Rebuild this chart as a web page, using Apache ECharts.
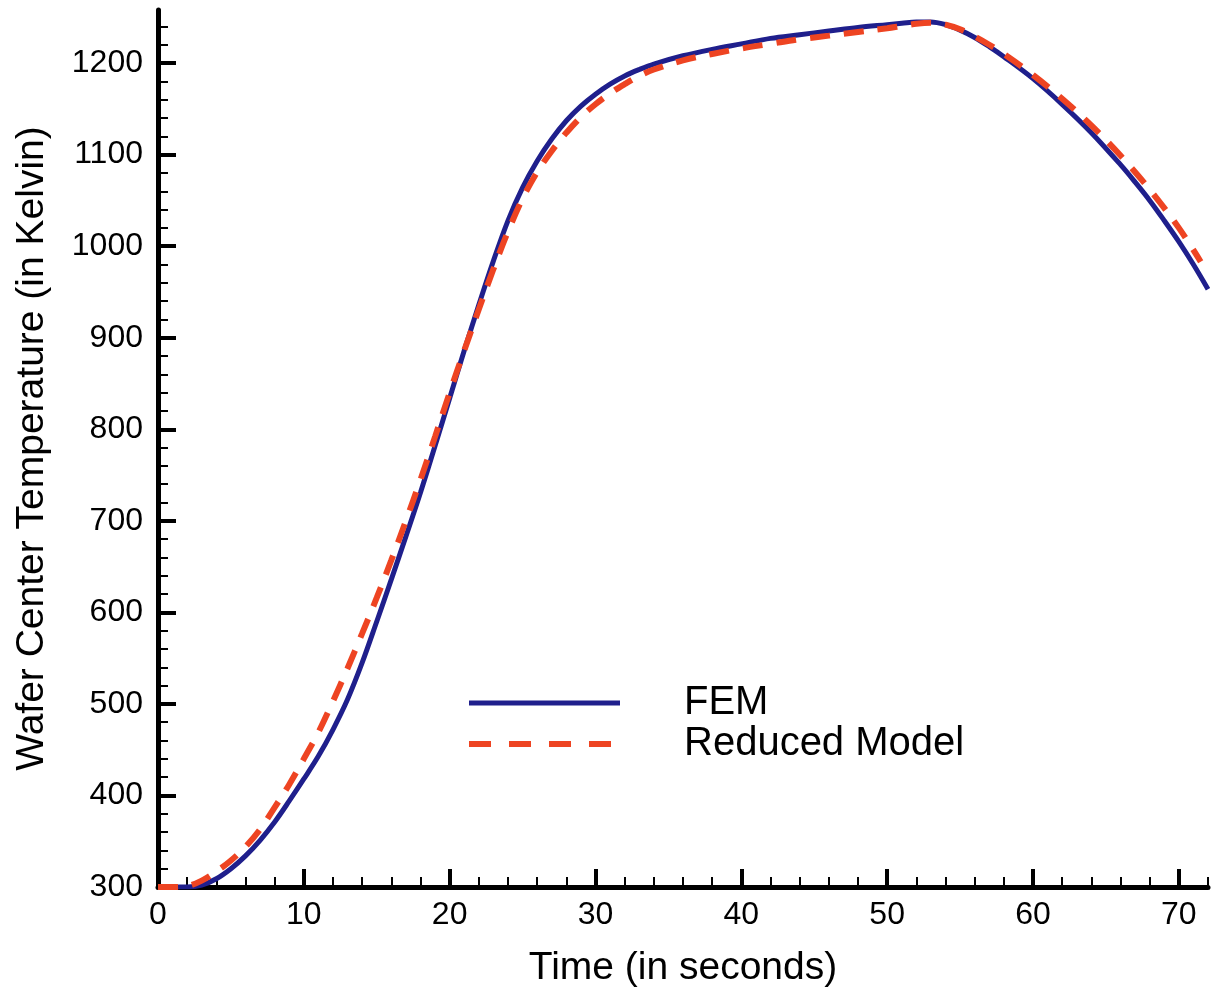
<!DOCTYPE html>
<html>
<head>
<meta charset="utf-8">
<script src="https://cdn.jsdelivr.net/npm/echarts@6/dist/echarts.min.js"></script>
<style>html,body{margin:0;padding:0;background:#fff}#c{width:1212px;height:996px}</style>
</head>
<body>
<div id="c"></div>
<script>
const femTimes = [0,1,2,3,4,5,6,7,8,9,10,11,12,13,14,15,16,17,18,19,20,21,22,23,24,25,26,27,28,29,30,31,32,33,34,36,38,40,42,44,46,48,50,51,52,53,54,55,56,57,58,60,62,64,66,67,68,69,70,71,72];
const femValues = [300,300,300,302,309,320,334,351,371,394,418,443,472,505,545,590,636,683,731,782,834,886,936,984,1028,1064,1093,1117,1137,1153,1166,1177,1186,1193,1199,1208,1215,1221,1227,1231,1235,1239,1242,1243.5,1245,1245,1242,1236,1228,1218,1207,1183,1155,1124,1089,1070,1050,1028,1005,980,953];
const redTimes = [0,1,2,3,4,5,6,7,8,9,10,11,12,13,14,15,16,17,18,19,20,21,22,23,24,25,26,27,28,29,30,31,32,33,34,36,38,40,42,44,46,48,50,51,52,53,54,55,56,57,58,60,62,64,66,68,70,71.5];
const redValues = [300,300,301,307,317,329,344,363,387,412,440,469,503,539,577,616,657,700,745,792,840,886,931,975,1016,1052,1081,1104,1124,1141,1155,1167,1177,1186,1193,1203,1210,1216,1221,1226,1230,1234,1238,1240.5,1243,1244,1242,1237,1229,1220,1210,1187,1161,1132,1099,1062,1020,983];
const xMajorTicks = [0,10,20,30,40,50,60,70];
const xMinorTicks = [2,4,6,8,12,14,16,18,22,24,26,28,32,34,36,38,42,44,46,48,52,54,56,58,62,64,66,68,72];
const yMajorTicks = [300,400,500,600,700,800,900,1000,1100,1200];
const yMinorTicks = [320,340,360,380,420,440,460,480,520,540,560,580,620,640,660,680,720,740,760,780,820,840,860,880,920,940,960,980,1020,1040,1060,1080,1120,1140,1160,1180,1220,1240];
const seriesNames = ['FEM', 'Reduced Model'];
const xTitle = 'Time (in seconds)';
const yTitle = 'Wafer Center Temperature (in Kelvin)';

const pair = (ts, vs) => ts.map((t, i) => [t, vs[i]]);
const FONT = '"Liberation Sans", Arial, Helvetica, sans-serif';
const BLUE = '#1f1f8c', RED = '#ee4422';
const chart = echarts.init(document.getElementById('c'));
const baseX = {type:'value', min:0, max:72, gridIndex:0, position:'bottom', splitLine:{show:false}};
const baseY = {type:'value', min:300, max:1258, gridIndex:0, position:'left', splitLine:{show:false}};
chart.setOption({
  animation:false,
  backgroundColor:'#fff',
  grid:{left:158, right:4, top:10, bottom:109, containLabel:false},
  legend:{
    orient:'vertical', left:466, top:683, padding:0, itemWidth:151, itemHeight:24, itemGap:1,
    itemStyle:{opacity:0},
    data:[
      {name:seriesNames[0], lineStyle:{color:BLUE, width:5}},
      {name:seriesNames[1], lineStyle:{color:RED, width:6, type:[22,18]}}
    ],
    textStyle:{fontFamily:FONT, fontSize:40, color:'#000', padding:[0,0,0,59]}
  },
  xAxis:[
    Object.assign({}, baseX, {
      name:xTitle, nameLocation:'middle', nameGap:62,
      nameTextStyle:{fontFamily:FONT, fontSize:39, color:'#000'},
      axisLine:{show:true, onZero:false, lineStyle:{color:'#000', width:5}},
      axisTick:{show:true, inside:true, length:18, lineStyle:{color:'#000', width:4}, customValues:xMajorTicks},
      axisLabel:{show:true, margin:12, fontFamily:FONT, fontSize:32, color:'#000', customValues:xMajorTicks, formatter:v => String(v)}
    }),
    Object.assign({}, baseX, {
      axisLine:{show:false, onZero:false},
      axisTick:{show:true, inside:true, length:10, lineStyle:{color:'#000', width:2}, customValues:xMinorTicks},
      axisLabel:{show:false}
    })
  ],
  yAxis:[
    Object.assign({}, baseY, {
      name:yTitle, nameLocation:'middle', nameGap:106,
      nameTextStyle:{fontFamily:FONT, fontSize:39, color:'#000'},
      axisLine:{show:true, onZero:false, lineStyle:{color:'#000', width:5}},
      axisTick:{show:true, inside:true, length:18, lineStyle:{color:'#000', width:4}, customValues:yMajorTicks},
      axisLabel:{show:true, margin:15, fontFamily:FONT, fontSize:32, color:'#000', customValues:yMajorTicks, formatter:v => String(v)}
    }),
    Object.assign({}, baseY, {
      axisLine:{show:false, onZero:false},
      axisTick:{show:true, inside:true, length:10, lineStyle:{color:'#000', width:2}, customValues:yMinorTicks},
      axisLabel:{show:false}
    })
  ],
  series:[
    {name:seriesNames[0], type:'line', xAxisIndex:0, yAxisIndex:0, data:pair(femTimes, femValues),
     smooth:0.35, symbol:'none', showSymbol:false, z:2,
     lineStyle:{color:BLUE, width:5}, itemStyle:{color:BLUE}},
    {name:seriesNames[1], type:'line', xAxisIndex:0, yAxisIndex:0, data:pair(redTimes, redValues),
     smooth:0.35, symbol:'none', showSymbol:false, z:3,
     lineStyle:{color:RED, width:6, type:[20,14]}, itemStyle:{color:RED}}
  ]
});
</script>
</body>
</html>
